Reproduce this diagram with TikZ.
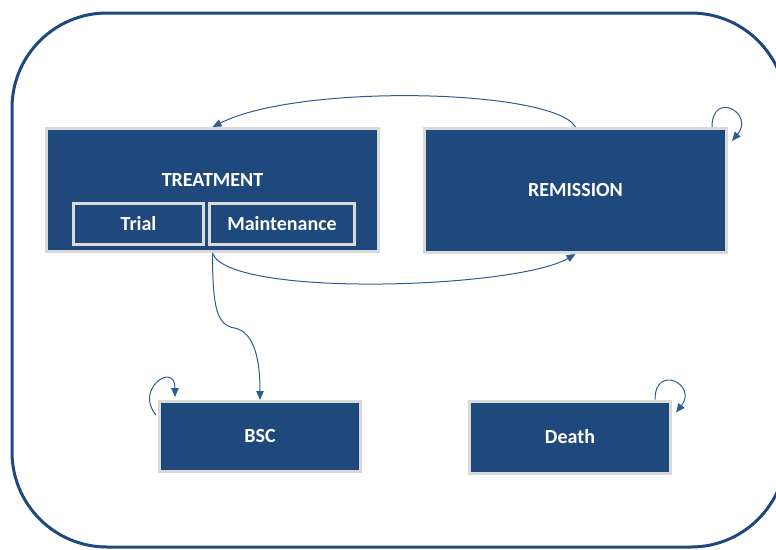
\documentclass[tikz,border=0pt]{standalone}
\usepackage{fontspec}
\setmainfont{Carlito}
\usetikzlibrary{arrows.meta}
\definecolor{boxblue}{HTML}{1F497D}
\definecolor{boxgray}{HTML}{D9D9D9}
\definecolor{arrblue}{HTML}{2F5C8F}
\begin{document}
\begin{tikzpicture}[x=1pt,y=1pt,
state/.style={draw=boxgray,line width=3pt,fill=boxblue,text=white,font=\fontsize{20}{24}\selectfont\bfseries,inner sep=0pt},
lbl/.style={text=white,font=\fontsize{20}{24}\selectfont\bfseries,inner sep=0pt},
trans/.style={draw=arrblue,line width=1pt,-{Triangle[length=9pt,width=7.5pt]}}]
\useasboundingbox(0,0)rectangle(776,-549);
\clip(0,0)rectangle(776,-549);
\draw[boxblue,line width=3pt,rounded corners=95pt](12,-13)rectangle(786,-547);
\node[state,minimum width=332pt,minimum height=123pt](treat)at(212.5,-190){};
\node[lbl](treatlbl)at(212.5,-180){TREATMENT};
\node[state,minimum width=130pt,minimum height=41pt](trial)at(138.5,-224){Trial};
\node[state,minimum width=145pt,minimum height=41pt](maint)at(282,-224){Maintenance};
\node[state,minimum width=302pt,minimum height=124pt](remi)at(575.5,-190.5){REMISSION};
\node[state,minimum width=201pt,minimum height=70pt](bsc)at(260,-436.5){BSC};
\node[state,minimum width=201pt,minimum height=72pt](death)at(570,-437){Death};
\draw[trans](remi.north)..controls+(-22,38)and+(87,44)..(treat.north);
\draw[trans](treat.south)..controls+(15,-45)and+(-60,-35)..(remi.south);
\draw[trans](treat.south)..controls+(0,-57)and+(-17,3)..++(22,-75)..controls+(20,-4)and+(0,40)..(bsc.north);
\draw[trans]([xshift=-16pt]remi.north east)..controls+(0,37)and+(23,28)..([shift={(4,-14)}]remi.north east);
\draw[trans]([xshift=-17pt]death.north east)..controls+(0,36)and+(22,28)..([shift={(4,-13)}]death.north east);
\draw[trans]([shift={(-2,-15)}]bsc.north west)..controls+(-22,26)and+(0,36)..([shift={(17,3)}]bsc.north west);
\end{tikzpicture}
\end{document}
